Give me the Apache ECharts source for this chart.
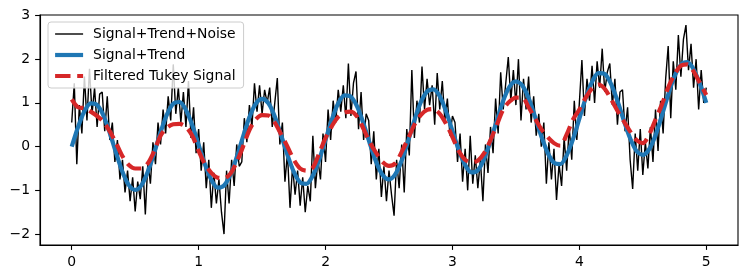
<!DOCTYPE html>
<html>
<head>
<meta charset="utf-8">
<script src="https://cdn.jsdelivr.net/npm/echarts@6/dist/echarts.min.js"></script>
<style>
  html, body { margin: 0; padding: 0; background: #fff; }
  #chart { width: 747px; height: 279px; }
</style>
</head>
<body>
<div id="chart"></div>
<script>
// sample times of the raw (noisy) record, 0.02 s apart
const tFine = [
  0.00, 0.02, 0.04, 0.06, 0.08, 0.10, 0.12, 0.14, 0.16, 0.18,
  0.20, 0.22, 0.24, 0.26, 0.28, 0.30, 0.32, 0.34, 0.36, 0.38,
  0.40, 0.42, 0.44, 0.46, 0.48, 0.50, 0.52, 0.54, 0.56, 0.58,
  0.60, 0.62, 0.64, 0.66, 0.68, 0.70, 0.72, 0.74, 0.76, 0.78,
  0.80, 0.82, 0.84, 0.86, 0.88, 0.90, 0.92, 0.94, 0.96, 0.98,
  1.00, 1.02, 1.04, 1.06, 1.08, 1.10, 1.12, 1.14, 1.16, 1.18,
  1.20, 1.22, 1.24, 1.26, 1.28, 1.30, 1.32, 1.34, 1.36, 1.38,
  1.40, 1.42, 1.44, 1.46, 1.48, 1.50, 1.52, 1.54, 1.56, 1.58,
  1.60, 1.62, 1.64, 1.66, 1.68, 1.70, 1.72, 1.74, 1.76, 1.78,
  1.80, 1.82, 1.84, 1.86, 1.88, 1.90, 1.92, 1.94, 1.96, 1.98,
  2.00, 2.02, 2.04, 2.06, 2.08, 2.10, 2.12, 2.14, 2.16, 2.18,
  2.20, 2.22, 2.24, 2.26, 2.28, 2.30, 2.32, 2.34, 2.36, 2.38,
  2.40, 2.42, 2.44, 2.46, 2.48, 2.50, 2.52, 2.54, 2.56, 2.58,
  2.60, 2.62, 2.64, 2.66, 2.68, 2.70, 2.72, 2.74, 2.76, 2.78,
  2.80, 2.82, 2.84, 2.86, 2.88, 2.90, 2.92, 2.94, 2.96, 2.98,
  3.00, 3.02, 3.04, 3.06, 3.08, 3.10, 3.12, 3.14, 3.16, 3.18,
  3.20, 3.22, 3.24, 3.26, 3.28, 3.30, 3.32, 3.34, 3.36, 3.38,
  3.40, 3.42, 3.44, 3.46, 3.48, 3.50, 3.52, 3.54, 3.56, 3.58,
  3.60, 3.62, 3.64, 3.66, 3.68, 3.70, 3.72, 3.74, 3.76, 3.78,
  3.80, 3.82, 3.84, 3.86, 3.88, 3.90, 3.92, 3.94, 3.96, 3.98,
  4.00, 4.02, 4.04, 4.06, 4.08, 4.10, 4.12, 4.14, 4.16, 4.18,
  4.20, 4.22, 4.24, 4.26, 4.28, 4.30, 4.32, 4.34, 4.36, 4.38,
  4.40, 4.42, 4.44, 4.46, 4.48, 4.50, 4.52, 4.54, 4.56, 4.58,
  4.60, 4.62, 4.64, 4.66, 4.68, 4.70, 4.72, 4.74, 4.76, 4.78,
  4.80, 4.82, 4.84, 4.86, 4.88, 4.90, 4.92, 4.94, 4.96, 4.98,
  5.00
];

// Signal+Trend+Noise
const noisy = [
  0.55, 1.45, -0.40, 0.95, 0.30, 1.60, 0.60, 1.78, 0.75, 1.35, 0.45, 1.20, 1.25, 0.35, 1.15, 0.15, 0.55,
  -0.35, 0.15, -0.75, -0.30, -1.05, -0.55, -1.25, -0.70, -1.48, -0.80, -1.20, -0.45, -1.55, -0.35, -0.85, 0.10, -0.40,
  0.55, 0.05, 0.85, 0.30, 1.15, 0.60, 1.88, 0.75, 1.35, 0.55, 1.25, 0.45, 1.50, 0.20, 0.90, -0.15, 0.40,
  -0.55, 0.10, -0.95, -0.30, -1.40, -0.60, -1.30, -0.75, -1.50, -2.00, -0.55, -1.30, -0.30, -0.90, 0.05, -0.45,
  -0.35, 0.65, 0.10, 0.95, 0.45, 1.45, 0.80, 1.40, 0.75, 1.30, 1.00, 1.35, 0.45, 1.00, 1.57, 0.05, 0.55,
  -0.80, -0.15, -1.40, -0.45, -1.10, -0.55, -1.35, -0.70, -1.50, -0.90, -1.25, 0.25, -0.95, -0.30, -0.75, 0.30, -0.35,
  0.85, 0.15, 1.05, 0.55, 1.30, 0.80, 1.40, 0.65, 1.90, 0.70, 1.45, 1.72, 0.40, 1.25, 0.15, 0.75,
  0.60, -0.40, 0.35, -0.75, -0.05, -1.15, -0.45, -1.25, -0.55, -1.10, -1.58, -0.30, -0.95, 0.05, -1.05, 0.40, -0.20,
  1.75, 0.20, 1.05, 0.55, 1.83, 0.85, 1.55, 0.95, 1.40, 0.50, 1.68, 0.85, 1.50, 0.60, 1.10, 0.25, 0.70,
  0.55, -0.35, 0.30, -0.80, -0.05, -1.00, 0.25, -0.85, -0.20, -0.95, -0.30, -1.25, 0.05, -0.60, 0.45, -0.15,
  1.10, 0.30, 1.70, 0.85, 1.45, 2.05, 1.05, 1.75, 0.95, 2.00, 0.60, 1.55, 0.85, 1.60, 0.55, 1.15, 0.25,
  0.75, 0.00, 0.55, -0.85, 0.10, -0.75, -0.05, -1.22, -0.40, -0.90, 0.20, -0.55, 0.45, -0.30, 1.05, 0.15, 1.00,
  1.98, 0.70, 1.55, 1.05, 1.85, 1.00, 1.95, 1.35, 2.24, 1.25, 1.70, 1.90, 0.95, 1.55, 0.50, 1.25,
  1.30, 0.35, 0.90, -0.30, -0.97, 0.30, -0.55, 0.40, -0.65, 0.10, -0.50, 0.45, -0.35, 0.85, -0.10, 1.05, 0.30,
  1.55, 2.30, 0.65, 1.95, 1.30, 2.55, 1.60, 2.45, 2.78, 1.75, 2.35, 1.35, 2.00, 0.85, 1.75, 1.00, 1.35
];

// times for the two smooth curves, 0.05 s apart
const tCoarse = [
  0.00, 0.05, 0.10, 0.15, 0.20, 0.25, 0.30, 0.35, 0.40, 0.45,
  0.50, 0.55, 0.60, 0.65, 0.70, 0.75, 0.80, 0.85, 0.90, 0.95,
  1.00, 1.05, 1.10, 1.15, 1.20, 1.25, 1.30, 1.35, 1.40, 1.45,
  1.50, 1.55, 1.60, 1.65, 1.70, 1.75, 1.80, 1.85, 1.90, 1.95,
  2.00, 2.05, 2.10, 2.15, 2.20, 2.25, 2.30, 2.35, 2.40, 2.45,
  2.50, 2.55, 2.60, 2.65, 2.70, 2.75, 2.80, 2.85, 2.90, 2.95,
  3.00, 3.05, 3.10, 3.15, 3.20, 3.25, 3.30, 3.35, 3.40, 3.45,
  3.50, 3.55, 3.60, 3.65, 3.70, 3.75, 3.80, 3.85, 3.90, 3.95,
  4.00, 4.05, 4.10, 4.15, 4.20, 4.25, 4.30, 4.35, 4.40, 4.45,
  4.50, 4.55, 4.60, 4.65, 4.70, 4.75, 4.80, 4.85, 4.90, 4.95,
  5.00
];

// Signal+Trend
const clean = [
  0.00, 0.45, 0.81, 0.99, 0.95, 0.71, 0.31, -0.15, -0.58, -0.88,
  -0.99, -0.88, -0.57, -0.14, 0.33, 0.73, 0.98, 1.02, 0.84, 0.49,
  0.04, -0.41, -0.76, -0.94, -0.89, -0.64, -0.24, 0.23, 0.67, 0.98,
  1.09, 0.99, 0.69, 0.26, -0.19, -0.58, -0.82, -0.85, -0.66, -0.30,
  0.16, 0.62, 0.99, 1.17, 1.14, 0.91, 0.52, 0.06, -0.36, -0.65,
  -0.75, -0.63, -0.32, 0.12, 0.60, 1.01, 1.26, 1.31, 1.15, 0.80,
  0.36, -0.08, -0.42, -0.59, -0.54, -0.28, 0.13, 0.60, 1.05, 1.37,
  1.49, 1.40, 1.11, 0.69, 0.24, -0.14, -0.37, -0.40, -0.20, 0.17,
  0.64, 1.11, 1.48, 1.68, 1.66, 1.43, 1.05, 0.60, 0.19, -0.10,
  -0.19, -0.06, 0.26, 0.71, 1.19, 1.61, 1.87, 1.93, 1.77, 1.43,
  1.00
];

// Filtered Tukey Signal
const filtered = [
  1.08, 0.90, 0.88, 0.80, 0.70, 0.57, 0.35, 0.08, -0.22, -0.42,
  -0.50, -0.50, -0.38, -0.10, 0.25, 0.43, 0.51, 0.52, 0.45, 0.25,
  -0.10, -0.40, -0.60, -0.71, -0.72, -0.62, -0.35, 0.00, 0.38, 0.62,
  0.72, 0.71, 0.55, 0.28, 0.00, -0.30, -0.50, -0.55, -0.48, -0.15,
  0.20, 0.47, 0.68, 0.78, 0.80, 0.68, 0.40, 0.09, -0.15, -0.35,
  -0.44, -0.38, -0.12, 0.18, 0.50, 0.72, 0.84, 0.86, 0.75, 0.52,
  0.22, -0.10, -0.30, -0.36, -0.32, -0.15, 0.15, 0.50, 0.85, 1.03,
  1.12, 1.12, 0.90, 0.65, 0.40, 0.22, 0.08, 0.02, 0.28, 0.62,
  0.85, 1.12, 1.33, 1.42, 1.32, 1.08, 0.82, 0.58, 0.35, 0.15,
  0.08, 0.28, 0.62, 0.96, 1.35, 1.65, 1.85, 1.88, 1.72, 1.45,
  1.18
];

const xTicks = [0, 1, 2, 3, 4, 5];
const yTicks = [-2, -1, 0, 1, 2, 3];

const pair = (ts, vs) => ts.map((t, i) => [t, vs[i]]);
const minus = (v) => String(v).replace('-', '\u2212');

const chart = echarts.init(document.getElementById('chart'), null, { renderer: 'canvas' });

const font = 'DejaVu Sans';
const dash = [15.4, 6.7];

// matplotlib-like axis: spine + outward ticks, labels only at the round values
const tickAxis = (min, max, ticks) => ({
  type: 'value',
  min: min,
  max: max,
  splitLine: { show: false },
  axisLine: { show: true, onZero: false, lineStyle: { color: '#000', width: 1.1 } },
  axisTick: {
    show: true,
    inside: false,
    length: 4.9,
    customValues: ticks,
    lineStyle: { color: '#000', width: 1.1 }
  },
  axisLabel: {
    customValues: ticks,
    margin: 10,
    color: '#000',
    fontFamily: font,
    fontSize: 13.9,
    formatter: minus
  }
});

chart.setOption({
  animation: false,
  backgroundColor: '#fff',
  grid: {
    left: 40,
    right: 9,
    top: 15,
    bottom: 34,
    show: true,
    borderColor: '#000',
    borderWidth: 1.1,
    backgroundColor: 'transparent'
  },
  xAxis: tickAxis(-0.25, 5.25, xTicks),
  yAxis: tickAxis(-2.25, 3.01, yTicks),
  legend: {
    orient: 'vertical',
    left: 48,
    top: 22,
    padding: [5, 8, 5, 5],
    itemWidth: 28,
    itemHeight: 14,
    itemGap: 7,
    itemStyle: { opacity: 0 },
    backgroundColor: 'rgba(255,255,255,0.8)',
    borderColor: '#cccccc',
    borderWidth: 1,
    borderRadius: 3,
    textStyle: {
      color: '#000',
      fontFamily: font,
      fontSize: 13.9,
      lineHeight: 14,
      padding: [0, 0, 0, 5]
    },
    data: [
      { name: 'Signal+Trend+Noise', lineStyle: { width: 1.4 } },
      { name: 'Signal+Trend', lineStyle: { width: 4.2 } },
      { name: 'Filtered Tukey Signal', lineStyle: { width: 4.2, type: dash } }
    ]
  },
  series: [
    {
      name: 'Signal+Trend+Noise',
      type: 'line',
      data: pair(tFine, noisy),
      symbol: 'none',
      lineStyle: { color: '#000', width: 1.4 },
      itemStyle: { color: '#000' }
    },
    {
      name: 'Signal+Trend',
      type: 'line',
      data: pair(tCoarse, clean),
      symbol: 'none',
      smooth: 0.3,
      lineStyle: { color: '#1f77b4', width: 4.2 },
      itemStyle: { color: '#1f77b4' }
    },
    {
      name: 'Filtered Tukey Signal',
      type: 'line',
      data: pair(tCoarse, filtered),
      symbol: 'none',
      smooth: 0.3,
      lineStyle: { color: '#d62728', width: 4.2, type: dash },
      itemStyle: { color: '#d62728' }
    }
  ]
});
</script>
</body>
</html>
